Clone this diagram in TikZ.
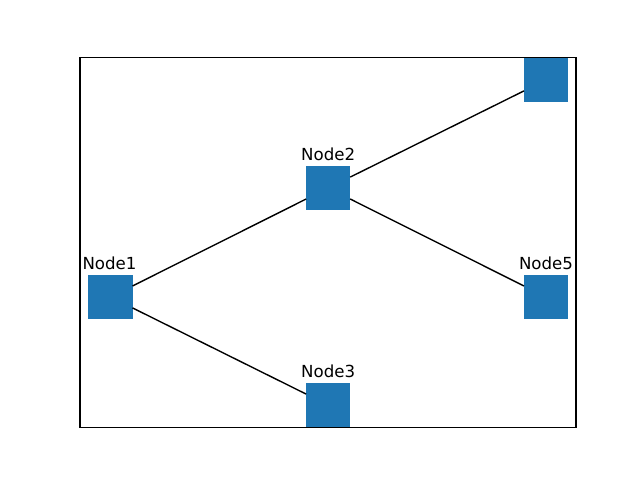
\documentclass[tikz,border=0pt]{standalone}
\usepackage{fontspec}
\setmainfont{DejaVu Sans}
\definecolor{sqblue}{HTML}{1F77B4}
\begin{document}
\begin{tikzpicture}[x=0.01in,y=-0.01in,
  sq/.style={fill=sqblue, draw=none, minimum size=0.44in, inner sep=0pt, outer sep=0pt},
  lab/.style={font=\fontsize{12}{14}\selectfont, inner sep=0pt},
  edge/.style={line width=1pt, black}]
\useasboundingbox (0,0) rectangle (640,480);
\begin{scope}
\clip (80,57.6) rectangle (576,427.2);
\node[sq] (n1) at (110.5,297) {};
\node[sq] (n2) at (328.2,188) {};
\node[sq] (n3) at (328.2,405) {};
\node[sq] (n4) at (546,80) {};
\node[sq] (n5) at (546,297) {};
\draw[edge] (n1) -- (n2);
\draw[edge] (n1) -- (n3);
\draw[edge] (n2) -- (n4);
\draw[edge] (n2) -- (n5);
\node[lab] (l1) at (109.5,263) {Node1};
\node[lab] (l2) at (328.2,154) {Node2};
\node[lab] (l3) at (328.2,371) {Node3};
\node[lab] (l5) at (546,263) {Node5};
\end{scope}
\draw[line width=0.8pt] (80,57.6) rectangle (576,427.2);
\end{tikzpicture}
\end{document}
